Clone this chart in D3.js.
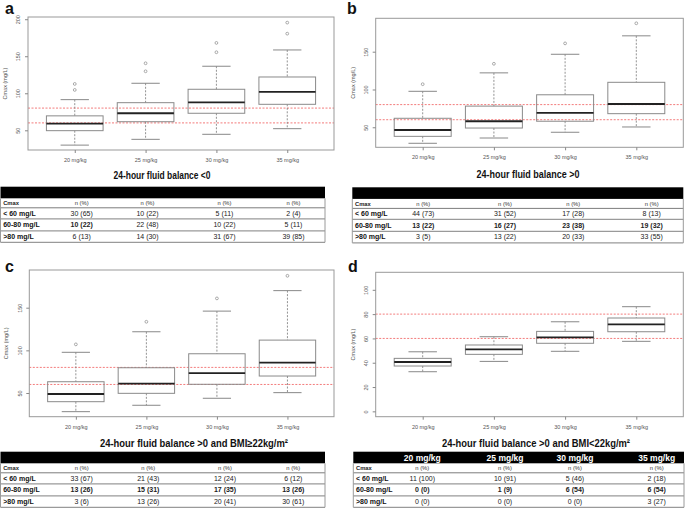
<!DOCTYPE html>
<html><head><meta charset="utf-8">
<script src="https://cdn.jsdelivr.net/npm/d3@7"></script>
<style>body{margin:0;background:#fff}</style></head>
<body><svg id="chart" width="685" height="512"></svg>
<script>
// ---------- data ----------
const doses = ["20 mg/kg", "25 mg/kg", "30 mg/kg", "35 mg/kg"];
const thresholds = [60, 80];
const rowLabels = ["< 60 mg/L", "60-80 mg/L", ">80 mg/L"];
const colHeader = "n (%)";

// panel a : 24-hour fluid balance <0
const aLow  = [30, 37.8, 44.6, 52.2];
const aQ1   = [49.5, 61.6, 73, 85.1];
const aMed  = [59, 73, 87.8, 101.8];
const aQ3   = [69.5, 87.3, 105.4, 122];
const aHigh = [91.4, 113.5, 136.5, 158.5];
const aOut  = [[104.5, 112.6], [129.7, 140.5], [155.4, 168], [180.5, 195.4]];
const aLt60 = ["30 (65)", "10 (22)", "5 (11)", "2 (4)"];
const aMid  = ["10 (22)", "22 (48)", "10 (22)", "5 (11)"];
const aGt80 = ["6 (13)", "14 (30)", "31 (67)", "39 (85)"];

// panel b : 24-hour fluid balance >0
const bLow  = [28.8, 35.8, 43.4, 50.4];
const bQ1   = [38, 49, 58, 68];
const bMed  = [46.4, 58, 69, 80.8];
const bQ3   = [61.9, 78, 93, 109.5];
const bHigh = [97.6, 122, 146.6, 171];
const bOut  = [[107], [134], [161], [187.6]];
const bLt60 = ["44 (73)", "31 (52)", "17 (28)", "8 (13)"];
const bMid  = ["13 (22)", "16 (27)", "23 (38)", "19 (32)"];
const bGt80 = ["3 (5)", "13 (22)", "20 (33)", "33 (55)"];

// panel c : 24-hour fluid balance >0 and BMI>=22
const cLow  = [28.1, 35.6, 43.8, 50.4];
const cQ1   = [39.8, 49.6, 60.2, 69.9];
const cMed  = [48.8, 60.9, 73.4, 85.5];
const cQ3   = [63.2, 79.6, 96, 112];
const cHigh = [97.7, 121.8, 146, 170];
const cOut  = [[107], [133.5], [160.9], [187.4]];
const cLt60 = ["33 (67)", "21 (43)", "12 (24)", "6 (12)"];
const cMid  = ["13 (26)", "15 (31)", "17 (35)", "13 (26)"];
const cGt80 = ["3 (6)", "13 (26)", "20 (41)", "30 (61)"];

// panel d : 24-hour fluid balance >0 and BMI<22
const dLow  = [32.6, 41.1, 49.4, 57.6];
const dQ1   = [37.3, 46.9, 56, 65.5];
const dMed  = [40.6, 51, 60.9, 71.6];
const dQ3   = [43.6, 54.6, 65.8, 76.8];
const dHigh = [49, 61.4, 73.7, 86.1];
const dOut  = [[], [], [], []];
const dLt60 = ["11 (100)", "10 (91)", "5 (46)", "2 (18)"];
const dMid  = ["0 (0)", "1 (9)", "6 (54)", "6 (54)"];
const dGt80 = ["0 (0)", "0 (0)", "0 (0)", "3 (27)"];

// ---------- layout ----------
const NARROW = "'Liberation Sans Narrow','Arial Narrow','Liberation Sans',Arial,sans-serif";
const SANS = "'Liberation Sans',Arial,Helvetica,sans-serif";

const panels = [
  { letter: "a", lx: 5, ly: 14, title: "24-hour fluid balance <0",
    frame: [28, 334, 17, 150], yDom: [23.4, 203], yTicks: [50, 100, 150, 200],
    low: aLow, q1: aQ1, med: aMed, q3: aQ3, high: aHigh, out: aOut,
    tx: 162, ty: 179, tw: 97,
    table: { x0: 0.5, x1: 325, y: 186.7, cols: [81.7, 147.5, 224.5, 293.5], header: false,
             rows: [aLt60, aMid, aGt80], midBold: [true, false, false, false] } },
  { letter: "b", lx: 347, ly: 14, title: "24-hour fluid balance >0",
    frame: [375.7, 683.3, 18.3, 147.3], yDom: [23.5, 194.2], yTicks: [50, 100, 150],
    low: bLow, q1: bQ1, med: bMed, q3: bQ3, high: bHigh, out: bOut,
    tx: 528, ty: 178, tw: 103,
    table: { x0: 352.3, x1: 683.3, y: 187.3, cols: [423.3, 505, 573.3, 651.7], header: false,
             rows: [bLt60, bMid, bGt80], midBold: [true, true, true, true] } },
  { letter: "c", lx: 5, ly: 272, title: "24-hour fluid balance >0 and BMI\u226522kg/m\u00b2",
    frame: [29.3, 334, 270, 416.7], yDom: [22.2, 194.2], yTicks: [50, 100, 150],
    low: cLow, q1: cQ1, med: cMed, q3: cQ3, high: cHigh, out: cOut,
    tx: 194, ty: 447, tw: 188,
    table: { x0: 0.5, x1: 325, y: 451.7, cols: [81.7, 148.3, 225, 293.3], header: false,
             rows: [cLt60, cMid, cGt80], midBold: [true, true, true, true] } },
  { letter: "d", lx: 348, ly: 272, title: "24-hour fluid balance >0 and BMI<22kg/m\u00b2",
    frame: [375.7, 683.3, 272.3, 416.7], yDom: [-4.4, 114.4], yTicks: [0, 20, 40, 60, 80, 100],
    low: dLow, q1: dQ1, med: dMed, q3: dQ3, high: dHigh, out: dOut,
    tx: 536, ty: 447, tw: 188,
    table: { x0: 353.3, x1: 684, y: 451.7, cols: [422.3, 505, 575, 656.7], header: true,
             rows: [dLt60, dMid, dGt80], midBold: [true, true, true, true] } }
];

const svg = d3.select("#chart");

function drawPanel(p) {
  const [fx0, fx1, fy0, fy1] = p.frame;
  const n = doses.length;
  const x = d3.scaleLinear().domain([0.5 - 0.04 * n, n + 0.5 + 0.04 * n]).range([fx0, fx1]);
  const y = d3.scaleLinear().domain(p.yDom).range([fy1, fy0]);
  const g = svg.append("g");

  // letter
  svg.append("text").attr("x", p.lx).attr("y", p.ly).text(p.letter)
    .attr("font-family", SANS).attr("font-weight", "bold").attr("font-size", 16).attr("fill", "#111");

  // threshold lines
  g.selectAll("line.thr").data(thresholds).join("line")
    .attr("x1", fx0).attr("x2", fx1).attr("y1", d => y(d)).attr("y2", d => y(d))
    .attr("stroke", "#f26d6d").attr("stroke-width", 0.9).attr("stroke-dasharray", "2,1.5");

  const idx = d3.range(n);
  const bw = x(1.8) - x(1);
  const cw = bw * 0.5;
  const boxes = g.selectAll("g.box").data(idx).join("g");
  boxes.append("line").attr("x1", i => x(i + 1)).attr("x2", i => x(i + 1))
    .attr("y1", i => y(p.high[i])).attr("y2", i => y(p.q3[i]))
    .attr("stroke", "#777").attr("stroke-width", 0.8).attr("stroke-dasharray", "2,1.5");
  boxes.append("line").attr("x1", i => x(i + 1)).attr("x2", i => x(i + 1))
    .attr("y1", i => y(p.q1[i])).attr("y2", i => y(p.low[i]))
    .attr("stroke", "#777").attr("stroke-width", 0.8).attr("stroke-dasharray", "2,1.5");
  boxes.append("line").attr("x1", i => x(i + 1) - cw / 2).attr("x2", i => x(i + 1) + cw / 2)
    .attr("y1", i => y(p.high[i])).attr("y2", i => y(p.high[i]))
    .attr("stroke", "#888").attr("stroke-width", 1);
  boxes.append("line").attr("x1", i => x(i + 1) - cw / 2).attr("x2", i => x(i + 1) + cw / 2)
    .attr("y1", i => y(p.low[i])).attr("y2", i => y(p.low[i]))
    .attr("stroke", "#888").attr("stroke-width", 1);
  boxes.append("rect").attr("x", i => x(i + 1) - bw / 2).attr("width", bw)
    .attr("y", i => y(p.q3[i])).attr("height", i => y(p.q1[i]) - y(p.q3[i]))
    .attr("fill", "none").attr("stroke", "#8a8a8a").attr("stroke-width", 1);
  boxes.append("line").attr("x1", i => x(i + 1) - bw / 2).attr("x2", i => x(i + 1) + bw / 2)
    .attr("y1", i => y(p.med[i])).attr("y2", i => y(p.med[i]))
    .attr("stroke", "#222").attr("stroke-width", 1.8);
  boxes.each(function (i) {
    d3.select(this).selectAll("circle").data(p.out[i]).join("circle")
      .attr("cx", x(i + 1)).attr("cy", d => y(d)).attr("r", 1.4)
      .attr("fill", "none").attr("stroke", "#888").attr("stroke-width", 0.7);
  });

  g.append("rect").attr("x", fx0).attr("y", fy0).attr("width", fx1 - fx0).attr("height", fy1 - fy0)
    .attr("fill", "none").attr("stroke", "#999").attr("stroke-width", 1);

  const ya = g.append("g").attr("transform", `translate(${fx0},0)`)
    .call(d3.axisLeft(y).tickValues(p.yTicks).tickSize(3).tickFormat(d3.format("d")));
  ya.select(".domain").remove();
  ya.selectAll(".tick line").attr("stroke", "#888");
  ya.selectAll(".tick text").attr("x", 0).attr("y", 0).attr("dy", "0.35em")
    .attr("transform", "translate(-9.5,0) rotate(-90)").attr("text-anchor", "middle")
    .attr("font-family", SANS).attr("font-size", 5.5).attr("fill", "#555");
  g.append("text").attr("transform", `translate(${fx0 - 23},${(fy0 + fy1) / 2}) rotate(-90)`)
    .attr("dy", "0.35em").attr("text-anchor", "middle").text("Cmax (mg/L)")
    .attr("font-family", SANS).attr("font-size", 5.5).attr("fill", "#555");

  const xa = g.append("g").attr("transform", `translate(0,${fy1})`)
    .call(d3.axisBottom(x).tickValues(idx.map(i => i + 1)).tickSize(3).tickFormat(d => doses[d - 1]));
  xa.select(".domain").remove();
  xa.selectAll(".tick line").attr("stroke", "#888");
  xa.selectAll(".tick text").attr("y", 12).attr("dy", 0)
    .attr("font-family", SANS).attr("font-size", 5.5).attr("fill", "#555");

  svg.append("text").attr("x", p.tx).attr("y", p.ty).attr("text-anchor", "middle").text(p.title)
    .attr("font-family", NARROW).attr("font-weight", "bold").attr("font-size", 10.5).attr("fill", "#111")
    .attr("textLength", p.tw).attr("lengthAdjust", "spacingAndGlyphs");

  drawTable(p.table);
}

function drawTable(t) {
  const tg = svg.append("g");
  const barH = 11.6;
  const rowEdges = [0, 9.5, 20.5, 32.5, 44].map(v => v + t.y + barH);
  tg.append("rect").attr("x", t.x0).attr("y", t.y).attr("width", t.x1 - t.x0).attr("height", barH).attr("fill", "#000");
  if (t.header) {
    tg.selectAll("text.h").data(doses).join("text")
      .attr("x", (d, i) => t.cols[i]).attr("y", t.y + barH - 2.6).attr("text-anchor", "middle").text(d => d)
      .attr("font-family", NARROW).attr("font-weight", "bold").attr("font-size", 8.5).attr("fill", "#fff");
  }
  tg.selectAll("line.r").data(rowEdges.slice(1)).join("line")
    .attr("x1", t.x0).attr("x2", t.x1).attr("y1", d => d).attr("y2", d => d)
    .attr("stroke", (d, i) => i === 0 ? "#444" : "#9a9a9a").attr("stroke-width", (d, i) => i === 0 ? 0.7 : 1.3);
  [t.x0, t.x1].forEach(xv => tg.append("line").attr("x1", xv).attr("x2", xv)
    .attr("y1", t.y + barH).attr("y2", rowEdges[4]).attr("stroke", "#9a9a9a").attr("stroke-width", 1));

  const mid = i => (rowEdges[i] + rowEdges[i + 1]) / 2;
  tg.append("text").attr("x", t.x0 + 2.7).attr("y", mid(0) + 2).text("Cmax")
    .attr("font-family", NARROW).attr("font-weight", "bold").attr("font-size", 5.8).attr("fill", "#222");
  tg.selectAll("text.nh").data(doses).join("text")
    .attr("x", (d, i) => t.cols[i]).attr("y", mid(0) + 2).attr("text-anchor", "middle").text(colHeader)
    .attr("font-family", NARROW).attr("font-size", 5.8).attr("fill", "#333");
  t.rows.forEach((vals, r) => {
    const yy = mid(r + 1) + 2.3;
    tg.append("text").attr("x", t.x0 + 2.7).attr("y", yy).text(rowLabels[r])
      .attr("font-family", NARROW).attr("font-weight", "bold").attr("font-size", 7).attr("fill", "#111");
    tg.selectAll("text.v" + r).data(vals).join("text")
      .attr("x", (d, i) => t.cols[i]).attr("y", yy).attr("text-anchor", "middle").text(d => d)
      .attr("font-family", NARROW).attr("font-size", 7).attr("fill", "#222")
      .attr("font-weight", (d, i) => (r === 1 && t.midBold[i]) ? "bold" : "normal");
  });
}

panels.forEach(drawPanel);
</script></body></html>
